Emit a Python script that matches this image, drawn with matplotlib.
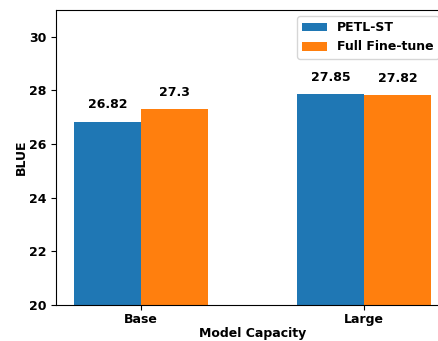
import numpy as np
import matplotlib
matplotlib.use('Agg')
import matplotlib.pyplot as plt

plt.rcParams['font.weight'] = 'bold'
plt.rcParams['axes.labelweight'] = 'bold'
plt.rcParams['font.size'] = 9

capacities = ['Base', 'Large']
petl_st = [26.82, 27.85]
full_ft = [27.3, 27.82]
labels = ['PETL-ST', 'Full Fine-tune']

x = np.arange(len(capacities))
width = 0.3

fig = plt.figure(figsize=(4.38, 3.41), dpi=100)
ax = fig.add_axes([56 / 438, 36 / 341, 393 / 438, 295 / 341])

b1 = ax.bar(x - width / 2, petl_st, width, color='#1f77b4', label=labels[0])
b2 = ax.bar(x + width / 2, full_ft, width, color='#ff7f0e', label=labels[1])

for bars, vals in ((b1, petl_st), (b2, full_ft)):
    for rect, v in zip(bars, vals):
        ax.text(rect.get_x() + rect.get_width() / 2, v + 0.4, str(v),
                ha='center', va='bottom', fontweight='bold')

ax.set_xticks(x)
ax.set_xticklabels(capacities)
ax.set_xlim(-0.38, 1.38)
ax.set_ylim(20, 31)
ax.set_yticks([20, 22, 24, 26, 28, 30])
ax.tick_params(axis='x', pad=2)
ax.set_xlabel('Model Capacity', labelpad=1)
ax.set_ylabel('BLUE', labelpad=1)
ax.legend(loc='upper right', bbox_to_anchor=(0.99, 1.0))

fig.savefig('out.png', dpi=100)
